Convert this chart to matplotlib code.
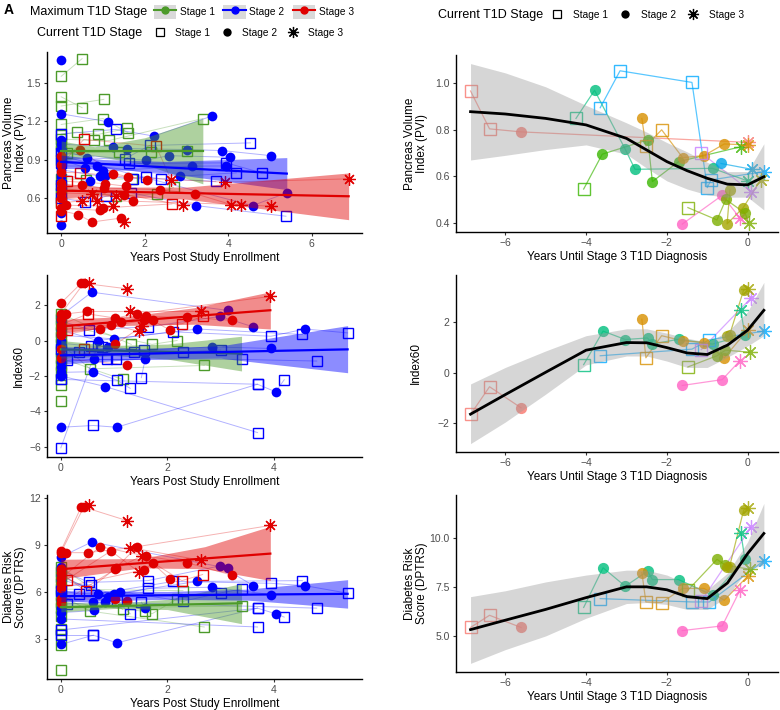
import numpy as np
import matplotlib
matplotlib.use("Agg")
import matplotlib.pyplot as plt
from matplotlib.lines import Line2D
from matplotlib.patches import Patch
from matplotlib.legend_handler import HandlerTuple

plt.rcParams["font.family"] = ["Liberation Sans", "DejaVu Sans"]

# =========================
# 1. DADOS - painéis da esquerda (por participante: (anos, valor, estágio atual))
# =========================
# prefixo do id: g = estágio máximo 1, b = estágio máximo 2, r = estágio máximo 3

pvi_left = {
    "g1": [(0, 1.55, 1), (0.5, 1.688, 1)],
    "g2": [(0, 1.39, 1), (0.5, 1.305, 1)],
    "g3": [(0, 1.318, 1), (1.02, 1.37, 1)],
    "g4": [(0, 1.174, 1), (1.0, 1.22, 1), (1.6, 1.108, 1)],
    "g5": [(0, 1.095, 1), (0.37, 1.114, 1), (0.88, 1.096, 1), (1.58, 1.143, 1)],
    "g6": [(0, 1.06, 1), (0.78, 1.049, 1), (1.15, 1.049, 1), (3.39, 1.22, 1)],
    "g7": [(0, 0.97, 1), (0.14, 0.952, 1), (1.38, 0.96, 1), (2.15, 0.96, 1), (3.0, 0.97, 1)],
    "g8": [(0, 0.75, 1), (0.6, 0.743, 1), (1.7, 0.749, 1)],
    "g9": [(0, 0.68, 1), (1.3, 0.613, 1), (2.29, 0.631, 1), (2.69, 0.683, 1)],
    "g10": [(0, 1.02, 1)],
    "g11": [(0, 0.64, 1)],
    "g12": [(0, 0.57, 1)],
    "g13": [(0, 0.9, 1)],
    "b1": [(0, 1.675, 2)],
    "b2": [(0, 1.257, 2), (1.12, 1.195, 2)],
    "b3": [(0, 1.1, 1), (1.3, 1.135, 1), (2.22, 1.083, 2), (3.61, 1.24, 2)],
    "b4": [(0, 1.02, 2), (1.24, 1.0, 2), (1.58, 0.986, 2), (3.0, 0.978, 2), (3.85, 0.97, 2), (5.03, 0.93, 2)],
    "b5": [(0, 0.98, 2), (0.62, 0.913, 2), (2.03, 0.895, 2), (2.57, 0.93, 2), (4.03, 0.918, 2)],
    "b6": [(0, 0.95, 1), (1.52, 0.905, 1), (2.12, 1.01, 1), (4.53, 1.03, 1)],
    "b7": [(0, 0.9, 2), (0.58, 0.835, 2), (1.0, 0.81, 2), (3.12, 0.848, 2), (3.94, 0.85, 2)],
    "b8": [(0, 0.87, 1), (1.63, 0.869, 1), (3.95, 0.874, 1), (4.8, 0.796, 1)],
    "b9": [(0, 0.85, 2), (0.86, 0.848, 2), (2.85, 0.77, 2), (4.19, 0.796, 1)],
    "b10": [(0, 0.82, 2), (0.94, 0.77, 2), (1.06, 0.77, 2), (1.71, 0.749, 1), (2.02, 0.764, 1),
            (2.39, 0.749, 1), (3.7, 0.73, 1)],
    "b11": [(0, 0.79, 2), (0.7, 0.73, 2)],
    "b12": [(0, 0.6, 1), (0.57, 0.566, 1), (1.07, 0.613, 1), (1.66, 0.64, 1), (3.23, 0.54, 2), (5.38, 0.457, 1)],
    "b13": [(0, 0.483, 2)],
    "b14": [(0, 0.39, 2)],
    "b15": [(0, 0.93, 2), (4.58, 0.54, 2), (5.4, 0.64, 2)],
    "b16": [(0, 1.05, 2)],
    "b17": [(0, 0.76, 2)],
    "b18": [(0, 0.7, 1)],
    "r1": [(0, 0.926, 2), (0.46, 0.973, 2), (1.24, 0.79, 2), (2.06, 0.738, 2)],
    "r2": [(0, 0.86, 2), (0.54, 1.057, 1), (2.27, 1.004, 1), (2.63, 0.743, 3)],
    "r3": [(0, 0.8, 2), (0.46, 0.796, 1), (1.6, 0.762, 2), (3.91, 0.723, 3), (6.88, 0.749, 3)],
    "r4": [(0, 0.72, 2), (0.13, 0.73, 1), (1.04, 0.712, 2), (1.56, 0.691, 2)],
    "r5": [(0, 0.68, 2), (0.49, 0.699, 2), (1.02, 0.678, 2), (2.36, 0.665, 2), (3.2, 0.634, 2), (4.07, 0.548, 3)],
    "r6": [(0, 0.64, 2), (0.74, 0.631, 3), (1.51, 0.626, 2), (2.92, 0.543, 3)],
    "r7": [(0, 0.56, 1), (0.5, 0.579, 3)],
    "r8": [(0, 0.6, 2), (0.86, 0.579, 3), (1.71, 0.574, 2), (4.31, 0.548, 3), (5.03, 0.535, 3)],
    "r9": [(0, 0.457, 1), (0.12, 0.543, 2), (1.24, 0.535, 3), (1.3, 0.618, 3)],
    "r10": [(0, 0.5, 2), (0.41, 0.47, 2), (0.74, 0.412, 2), (1.44, 0.443, 2), (1.51, 0.409, 3)],
    "r11": [(0, 0.52, 2), (0.94, 0.503, 2), (1.0, 0.522, 2), (2.65, 0.553, 1)],
}

index60_left = {
    "g1": [(0, 1.5, 1), (1.32, -0.22, 1)],
    "g2": [(0, 1.2, 1)],
    "g3": [(0, 0.9, 1), (1.71, -0.22, 1), (2.18, 0.0, 1)],
    "g4": [(0, 0.5, 1)],
    "g5": [(0, 0.2, 1)],
    "g6": [(0, -0.2, 1), (0.55, -1.6, 1), (2.69, -1.41, 1)],
    "g7": [(0, -0.6, 1)],
    "g8": [(0, -1.0, 1), (1.16, -2.2, 1)],
    "g9": [(0, -1.4, 1)],
    "g10": [(0, -1.8, 1)],
    "g11": [(0, -2.2, 1)],
    "g12": [(0, -2.5, 1)],
    "g13": [(0, -3.4, 1)],
    "b1": [(0, 1.4, 2), (0.58, 2.73, 2), (3.13, 1.7, 2)],
    "b2": [(0, 1.1, 2), (0.53, 0.62, 1), (1.63, 0.77, 1), (2.99, 1.36, 2), (3.61, 0.77, 2)],
    "b3": [(0, 0.6, 2), (0.69, 0.0, 2), (2.11, 0.49, 1), (3.94, 0.24, 1), (4.58, 0.65, 2), (5.38, 0.43, 1)],
    "b4": [(0, 0.3, 2), (1.0, 0.09, 2), (2.56, 0.65, 2), (4.53, 0.34, 1)],
    "b5": [(0, -0.15, 2), (0.57, -0.32, 1), (0.89, -0.36, 2), (1.56, -0.56, 1), (2.84, -0.36, 2), (3.94, -0.45, 2)],
    "b6": [(0, -0.5, 1), (0.34, -0.65, 1), (0.78, -0.36, 1), (1.38, -0.65, 1), (2.29, -0.64, 1), (3.0, -0.54, 1)],
    "b7": [(0, -0.85, 2), (0.11, -1.12, 1), (0.86, -1.07, 1), (1.03, -1.07, 1), (3.39, -1.07, 1), (4.8, -1.16, 1)],
    "b8": [(0, -1.2, 2), (0.62, -1.07, 2), (1.58, -1.07, 2), (1.51, -2.1, 1)],
    "b9": [(0, -1.8, 2), (0.61, -1.76, 2), (1.05, -2.24, 1), (1.3, -2.7, 1)],
    "b10": [(0, -2.0, 2), (0.83, -2.6, 2), (3.69, -5.2, 1)],
    "b11": [(0, -2.2, 1), (3.69, -2.47, 1), (4.03, -2.9, 2), (4.19, -2.22, 1)],
    "b12": [(0, -4.9, 2), (0.61, -4.8, 1), (1.05, -4.9, 2), (3.69, -2.47, 1)],
    "b13": [(0, -6.06, 1), (0.69, -0.3, 1)],
    "b14": [(0, 1.2, 2)],
    "b15": [(0, 0.0, 2)],
    "b16": [(0, -1.5, 2)],
    "r1": [(0, 2.11, 2), (0.38, 3.23, 2), (0.52, 3.27, 3)],
    "r2": [(0, 1.5, 2), (0.43, 3.23, 2), (1.24, 2.92, 3)],
    "r3": [(0, 1.2, 2), (0.09, 1.5, 2), (0.49, 1.64, 2), (1.3, 1.64, 3), (2.63, 1.64, 3)],
    "r4": [(0, 0.9, 2), (0.51, 1.5, 1), (1.02, 1.27, 2), (1.43, 1.5, 2), (3.93, 2.49, 3)],
    "r5": [(0, 0.7, 2), (0.74, 0.65, 2), (1.13, 1.03, 2), (1.59, 1.36, 2), (2.36, 1.31, 2), (3.21, 1.14, 2)],
    "r6": [(0, 0.45, 2), (0.11, 0.62, 1), (0.94, 0.9, 2), (1.46, 0.52, 3)],
    "r7": [(0, 0.3, 2), (1.56, 1.14, 2), (1.72, 1.14, 2), (2.05, 0.58, 2)],
    "r8": [(0, -0.5, 2), (0.43, -0.5, 1), (1.02, -0.22, 2), (1.52, 0.8, 3), (2.27, 0.95, 1), (2.66, 1.36, 1)],
    "r9": [(0, -1.0, 2), (1.24, -1.38, 2)],
}

dptrs_left = {
    "g1": [(0, 7.6, 1), (1.16, 4.91, 1)],
    "g2": [(0, 7.3, 1)],
    "g3": [(0, 7.0, 1), (1.71, 4.63, 1), (2.18, 5.58, 1)],
    "g4": [(0, 6.6, 1)],
    "g5": [(0, 6.2, 1), (2.29, 6.1, 1)],
    "g6": [(0, 5.8, 1), (0.55, 4.8, 1), (2.69, 3.79, 1)],
    "g7": [(0, 5.4, 1), (1.58, 4.78, 1)],
    "g8": [(0, 5.0, 1), (3.39, 5.12, 1)],
    "g9": [(0, 4.5, 1)],
    "g10": [(0, 3.69, 1)],
    "g11": [(0, 3.37, 1)],
    "g12": [(0, 2.64, 1)],
    "g13": [(0, 1.06, 1)],
    "b1": [(0, 8.25, 2), (0.58, 9.2, 2), (3.13, 7.53, 2)],
    "b2": [(0, 7.4, 2), (0.53, 6.63, 1), (1.63, 6.74, 1), (2.99, 7.68, 2), (3.61, 6.42, 2)],
    "b3": [(0, 7.1, 2), (0.69, 5.9, 2), (2.11, 6.69, 1), (3.94, 6.57, 1), (4.58, 6.42, 2), (5.38, 5.94, 1)],
    "b4": [(0, 6.8, 2), (1.0, 5.9, 2), (2.56, 6.69, 2), (4.53, 6.74, 1)],
    "b5": [(0, 6.4, 2), (0.57, 6.48, 1), (0.89, 5.68, 2), (1.63, 6.25, 1), (2.84, 6.32, 2), (3.94, 5.85, 2)],
    "b6": [(0, 6.1, 1), (0.34, 5.9, 1), (1.11, 6.04, 2), (2.29, 5.43, 1), (3.0, 5.96, 1), (3.39, 6.21, 1)],
    "b7": [(0, 5.9, 2), (0.11, 5.26, 1), (0.83, 5.37, 2), (4.8, 4.99, 1)],
    "b8": [(0, 5.5, 2), (0.61, 5.37, 2), (1.58, 4.99, 2), (1.51, 5.37, 1)],
    "b9": [(0, 4.7, 2), (0.63, 4.84, 2), (1.05, 5.47, 1), (1.3, 4.63, 1)],
    "b10": [(0, 4.3, 2), (3.69, 3.79, 1)],
    "b11": [(0, 3.6, 1), (3.69, 4.99, 1), (4.03, 4.63, 2), (4.19, 4.42, 1)],
    "b12": [(0, 2.68, 2), (0.61, 3.27, 1), (1.05, 2.78, 2), (3.69, 4.99, 1)],
    "b13": [(0, 3.27, 1), (0.61, 3.27, 1)],
    "b14": [(0, 7.6, 2)],
    "b15": [(0, 6.3, 2)],
    "b16": [(0, 5.0, 2)],
    "r1": [(0, 8.63, 2), (0.38, 11.42, 2), (0.52, 11.53, 3)],
    "r2": [(0, 8.52, 2), (0.43, 11.42, 2), (1.24, 10.56, 3)],
    "r3": [(0, 7.5, 2), (0.09, 8.52, 2), (0.5, 8.52, 2), (1.3, 8.84, 3), (2.63, 8.04, 3)],
    "r4": [(0, 7.2, 2), (0.48, 6.06, 1), (1.03, 7.53, 2), (1.43, 8.9, 2), (3.93, 10.25, 3)],
    "r5": [(0, 6.9, 2), (0.74, 8.9, 2), (1.59, 8.31, 2), (2.36, 7.89, 2), (3.21, 7.09, 2)],
    "r6": [(0, 6.6, 2), (0.11, 6.8, 1), (0.94, 8.63, 2), (1.46, 7.3, 3)],
    "r7": [(0, 6.3, 2), (1.56, 7.43, 2), (1.72, 7.85, 2), (2.05, 6.84, 2)],
    "r8": [(0, 5.3, 2), (1.02, 7.47, 2), (1.52, 8.31, 3), (2.27, 6.74, 1), (2.66, 7.13, 1)],
    "r9": [(0, 5.6, 2), (1.02, 5.54, 2), (1.24, 5.47, 2)],
}

# Ajustes lineares: x, ajuste, limite inferior, limite superior
pvi_fits = {
    1: ([0, 0.8, 2.0, 3.39], [0.965, 0.965, 0.965, 0.965], [0.885, 0.93, 0.86, 0.71], [1.045, 1.0, 1.07, 1.22]),
    2: ([0, 1.0, 2.5, 5.4], [0.882, 0.865, 0.839, 0.79], [0.83, 0.83, 0.795, 0.665], [0.935, 0.9, 0.885, 0.915]),
    3: ([0, 1.0, 3.0, 6.88], [0.657, 0.651, 0.638, 0.613], [0.60, 0.615, 0.59, 0.43], [0.715, 0.685, 0.685, 0.795]),
}
index60_fits = {
    1: ([0, 1.0, 2.0, 3.39], [-0.5, -0.57, -0.64, -0.74], [-1.0, -0.85, -1.05, -1.72], [0.0, -0.28, -0.2, 0.24]),
    2: ([0, 1.5, 3.0, 5.38], [-0.84, -0.75, -0.65, -0.5], [-1.33, -1.05, -1.0, -1.82], [-0.35, -0.45, -0.3, 0.84]),
    3: ([0, 1.2, 2.5, 3.93], [0.8, 1.08, 1.38, 1.71], [0.42, 0.85, 0.92, 0.65], [1.2, 1.35, 1.85, 2.75]),
}
dptrs_fits = {
    1: ([0, 1.0, 2.0, 3.39], [5.05, 5.12, 5.2, 5.3], [4.75, 4.97, 4.9, 4.0], [5.35, 5.3, 5.55, 6.55]),
    2: ([0, 2.0, 3.5, 5.38], [5.75, 5.81, 5.85, 5.9], [5.4, 5.55, 5.5, 4.99], [6.1, 6.05, 6.2, 6.8]),
    3: ([0, 1.5, 2.7, 3.93], [7.47, 7.85, 8.15, 8.46], [6.85, 7.55, 7.5, 6.75], [8.1, 8.15, 8.9, 10.2]),
}

# =========================
# 2. DADOS - painéis da direita (anos até diagnóstico de estágio 3)
# =========================
subj_colors = {
    "sal": "#F8766D", "gold": "#D89000", "olive": "#A3A500", "ygreen": "#7CAE00",
    "green": "#39B600", "teal": "#00BF7D", "lblue": "#00A9FF", "blue": "#00A5E8",
    "purple": "#C77CFF", "pink": "#FF61C3",
}

pvi_right = {
    "sal": [(-6.86, 0.967, 1), (-6.39, 0.804, 1), (-5.61, 0.791, 2), (0.0, 0.746, 3)],
    "lblue": [(-3.65, 0.895, 1), (-3.16, 1.054, 1), (-1.38, 1.004, 1), (-1.0, 0.551, 1),
              (-0.91, 0.584, 1), (0.4, 0.62, 3)],
    "teal": [(-4.25, 0.849, 1), (-3.79, 0.97, 2), (-3.03, 0.716, 2), (-2.79, 0.63, 2),
             (-0.87, 0.634, 2), (0.0, 0.58, 3)],
    "green": [(-4.06, 0.545, 1), (-3.6, 0.695, 2), (-2.47, 0.757, 2), (-2.36, 0.577, 2),
              (-1.71, 0.663, 2), (-0.17, 0.727, 3)],
    "gold": [(-2.62, 0.849, 2), (-2.52, 0.73, 1), (-2.13, 0.8, 1), (-1.61, 0.68, 2),
             (-1.08, 0.689, 2), (-0.58, 0.739, 2), (0.0, 0.735, 3)],
    "purple": [(-1.15, 0.7, 1), (0.08, 0.534, 3)],
    "blue": [(-0.66, 0.655, 2), (0.1, 0.63, 3)],
    "pink": [(-1.62, 0.394, 2), (-0.63, 0.518, 2), (-0.19, 0.419, 3)],
    "olive": [(-0.44, 0.541, 2), (-0.51, 0.395, 2), (-0.11, 0.465, 2), (0.32, 0.584, 3)],
    "ygreen": [(-1.48, 0.465, 1), (-0.76, 0.412, 2), (-0.54, 0.5, 2), (-0.06, 0.44, 2), (0.02, 0.4, 3)],
}

# Index60 e DPTRS compartilham as mesmas visitas
visit_years = {
    "sal": [-6.86, -6.39, -5.61],
    "teal": [-4.06, -3.58, -3.03, -2.48, -2.36, -1.71, -0.87, -0.07, -0.17],
    "lblue": [-3.65, -1.38, -0.95, 0.4],
    "gold": [-2.62, -2.52, -2.13, -1.61, -1.08, -0.58, 0.0],
    "ygreen": [-1.48, -0.76, -0.55, 0.05],
    "purple": [-1.15, 0.08],
    "pink": [-1.62, -0.63, -0.19],
    "olive": [-0.5, -0.45, -0.1, 0.0],
}
visit_stage = {
    "sal": [1, 1, 2],
    "teal": [1, 2, 2, 2, 2, 2, 2, 2, 3],
    "lblue": [1, 1, 1, 3],
    "gold": [2, 1, 1, 2, 2, 2, 3],
    "ygreen": [1, 2, 2, 3],
    "purple": [1, 3],
    "pink": [2, 2, 3],
    "olive": [2, 2, 2, 3],
}
index60_right = {
    "sal": [-1.65, -0.56, -1.39],
    "teal": [0.31, 1.63, 1.30, 1.36, 1.12, 1.31, 1.12, 1.47, 2.45],
    "lblue": [0.66, 0.92, 1.29, 1.63],
    "gold": [2.10, 0.58, 1.45, 1.25, 1.18, 0.58, 1.68],
    "ygreen": [0.22, 0.66, 0.88, 0.80],
    "purple": [0.90, 2.93],
    "pink": [-0.51, -0.28, 0.47],
    "olive": [1.45, 1.47, 3.25, 3.30],
}
dptrs_right = {
    "sal": [5.43, 6.05, 5.43],
    "teal": [6.45, 8.47, 7.53, 8.30, 7.87, 7.87, 7.07, 8.91, 10.26],
    "lblue": [6.90, 6.73, 6.73, 8.83],
    "gold": [8.23, 6.73, 6.70, 7.42, 7.42, 6.82, 8.04],
    "ygreen": [7.33, 8.90, 8.60, 8.40],
    "purple": [6.77, 10.53],
    "pink": [5.27, 5.51, 7.33],
    "olive": [8.52, 8.52, 11.41, 11.50],
}

# curvas suavizadas
smooth_x = [-6.86, -6.0, -5.0, -4.0, -3.0, -2.5, -2.0, -1.5, -1.0, -0.5, 0.0, 0.4]
pvi_smooth = [0.878, 0.868, 0.849, 0.821, 0.763, 0.713, 0.663, 0.624, 0.591, 0.566, 0.563, 0.598]
pvi_smooth_lo = [0.67, 0.69, 0.715, 0.735, 0.695, 0.635, 0.58, 0.545, 0.52, 0.51, 0.51, 0.455]
pvi_smooth_hi = [1.085, 1.045, 0.985, 0.905, 0.83, 0.79, 0.745, 0.705, 0.66, 0.62, 0.62, 0.74]
index60_smooth = [-1.64, -0.87, 0.01, 0.88, 1.18, 1.17, 0.98, 0.77, 0.71, 1.08, 1.67, 2.45]
index60_smooth_lo = [-2.8, -1.95, -0.85, 0.3, 0.65, 0.65, 0.45, 0.2, 0.2, 0.6, 1.05, 1.45]
index60_smooth_hi = [-0.45, 0.2, 0.85, 1.45, 1.72, 1.72, 1.55, 1.35, 1.2, 1.6, 2.4, 3.55]
dptrs_smooth = [5.32, 5.8, 6.35, 6.95, 7.5, 7.5, 7.35, 7.0, 6.9, 7.7, 9.2, 10.22]
dptrs_smooth_lo = [3.6, 4.3, 5.0, 5.9, 6.65, 6.7, 6.6, 6.35, 6.35, 7.0, 8.4, 8.6]
dptrs_smooth_hi = [7.0, 7.3, 7.75, 8.1, 8.35, 8.35, 8.1, 7.65, 7.35, 8.2, 9.8, 11.75]

# =========================
# 3. ESTILO
# =========================
STAGE_COL = {1: "#4C9A2A", 2: "#0000FF", 3: "#E00000"}
GROUP_OF = {"g": 1, "b": 2, "r": 3}
ASTER = (8, 2, 0)
TICK_COL = "#4D4D4D"


def marker_kw(stage, color, big=False):
    s = 1.15 if big else 1.0
    if stage == 1:
        return dict(marker="s", ms=7.0 * s, mfc="none", mec=color, mew=1.0)
    if stage == 2:
        return dict(marker="o", ms=7.0 * s, mfc=color, mec=color, mew=0)
    return dict(marker=ASTER, ms=9.0 * s, mfc=color, mec=color, mew=0.9)


def style_axes(ax, xlim, ylim, xticks, yticks, yticklabels, ylabel, xlabel, ylab_x):
    ax.set_xlim(*xlim)
    ax.set_ylim(*ylim)
    ax.set_xticks(xticks)
    ax.set_xticklabels([f"{t:g}".replace("-", "\u2212") for t in xticks])
    ax.set_yticks(yticks)
    ax.set_yticklabels(yticklabels)
    for side in ["top", "right"]:
        ax.spines[side].set_visible(False)
    for side in ["left", "bottom"]:
        ax.spines[side].set_linewidth(1.0)
        ax.spines[side].set_color("black")
    ax.tick_params(length=2.5, width=0.8, color="#333333", labelsize=7.5, labelcolor=TICK_COL, pad=2)
    ax.set_ylabel(ylabel, fontsize=8.5, linespacing=1.0)
    ax.yaxis.set_label_coords(ylab_x, 0.5)
    ax.set_xlabel(xlabel, fontsize=8.5, labelpad=2)


def draw_left(ax, subjects, fits):
    for sid, pts in subjects.items():
        col = STAGE_COL[GROUP_OF[sid[0]]]
        ax.plot([p[0] for p in pts], [p[1] for p in pts], color=col, lw=0.7, alpha=0.3, zorder=1)
        for x, y, st in pts:
            ax.plot([x], [y], ls="none", zorder=2, **marker_kw(st, col))
    for grp in [1, 2, 3]:
        xs, fit, lo, hi = fits[grp]
        col = STAGE_COL[grp]
        ax.fill_between(xs, lo, hi, color=col, alpha=0.45, lw=0, zorder=3)
        ax.plot(xs, fit, color=col, lw=1.6, zorder=3)


def draw_right(ax, tracks, sx, sy, lo, hi):
    for sid, pts in tracks.items():
        col = subj_colors[sid]
        ax.plot([p[0] for p in pts], [p[1] for p in pts], color=col, lw=0.9, alpha=0.65, zorder=1)
        for x, y, st in pts:
            ax.plot([x], [y], ls="none", alpha=0.8, zorder=2, **marker_kw(st, col, big=True))
    ax.fill_between(sx, lo, hi, color="#999999", alpha=0.4, lw=0, zorder=3)
    ax.plot(sx, sy, color="black", lw=2.0, zorder=4)


def visits_to_tracks(values):
    return {k: list(zip(visit_years[k], values[k], visit_stage[k])) for k in visit_years}


# =========================
# 4. FIGURA
# =========================
fig = plt.figure(figsize=(7.8, 7.1), dpi=100)
W, H = 780, 710


def add_ax(x0, top, x1, bottom):
    return fig.add_axes([x0 / W, 1 - bottom / H, (x1 - x0) / W, (bottom - top) / H])


ax1 = add_ax(47, 52, 362, 233)
ax3 = add_ax(47, 275, 362, 457)
ax5 = add_ax(47, 495, 362, 679)
ax2 = add_ax(456, 55, 778, 232)
ax4 = add_ax(456, 275, 778, 452)
ax6 = add_ax(456, 495, 778, 672)

draw_left(ax1, pvi_left, pvi_fits)
draw_left(ax3, index60_left, index60_fits)
draw_left(ax5, dptrs_left, dptrs_fits)

draw_right(ax2, pvi_right, smooth_x, pvi_smooth, pvi_smooth_lo, pvi_smooth_hi)
draw_right(ax4, visits_to_tracks(index60_right), smooth_x, index60_smooth, index60_smooth_lo, index60_smooth_hi)
draw_right(ax6, visits_to_tracks(dptrs_right), smooth_x, dptrs_smooth, dptrs_smooth_lo, dptrs_smooth_hi)

xl_left = "Years Post Study Enrollment"
xl_right = "Years Until Stage 3 T1D Diagnosis"
style_axes(ax1, (-0.34, 7.2), (0.326, 1.74), [0, 2, 4, 6], [0.6, 0.9, 1.2, 1.5],
           ["0.6", "0.9", "1.2", "1.5"], "Pancreas Volume\nIndex (PVI)", xl_left, -0.062)
style_axes(ax3, (-0.26, 5.65), (-6.58, 3.7), [0, 2, 4], [-6, -4, -2, 0, 2],
           ["\u22126", "\u22124", "\u22122", "0", "2"], "Index60", xl_left, -0.069)
style_axes(ax5, (-0.26, 5.65), (0.48, 12.19), [0, 2, 4], [3, 6, 9, 12],
           ["3", "6", "9", "12"], "Diabetes Risk\nScore (DPTRS)", xl_left, -0.062)
style_axes(ax2, (-7.22, 0.75), (0.36, 1.122), [-6, -4, -2, 0], [0.4, 0.6, 0.8, 1.0],
           ["0.4", "0.6", "0.8", "1.0"], "Pancreas Volume\nIndex (PVI)", xl_right, -0.086)
style_axes(ax4, (-7.22, 0.75), (-3.13, 3.84), [-6, -4, -2, 0], [-2, 0, 2],
           ["\u22122", "0", "2"], "Index60", xl_right, -0.106)
style_axes(ax6, (-7.22, 0.75), (3.16, 12.18), [-6, -4, -2, 0], [5.0, 7.5, 10.0],
           ["5.0", "7.5", "10.0"], "Diabetes Risk\nScore (DPTRS)", xl_right, -0.088)

# =========================
# 5. LEGENDAS
# =========================
stage_labels = ["Stage 1", "Stage 2", "Stage 3"]

max_handles = [(Patch(facecolor="#D9D9D9", edgecolor="none"),
                Line2D([], [], color=STAGE_COL[s], lw=1.5, marker="o", ms=5))
               for s in [1, 2, 3]]
fig.text(30 / W, 1 - 12 / H, "Maximum T1D Stage", fontsize=9, ha="left", va="center")
fig.legend(max_handles, stage_labels, handler_map={tuple: HandlerTuple(ndivide=1)},
           ncol=3, loc="center left", bbox_to_anchor=(154 / W, 1 - 12 / H), frameon=False,
           fontsize=7.3, handlelength=2.2, handleheight=1.7, handletextpad=0.35,
           columnspacing=0.85, borderpad=0, borderaxespad=0)

cur_handles = [Line2D([], [], ls="none", marker="s", ms=6, mfc="none", mec="black", mew=0.9),
               Line2D([], [], ls="none", marker="o", ms=6, mfc="black", mec="black", mew=0),
               Line2D([], [], ls="none", marker=ASTER, ms=8, mec="black", mew=0.9)]

fig.text(37 / W, 1 - 33 / H, "Current T1D Stage", fontsize=9, ha="left", va="center")
fig.legend(cur_handles, stage_labels, ncol=3, loc="center left",
           bbox_to_anchor=(153 / W, 1 - 33 / H), frameon=False, fontsize=7.3,
           handlelength=1.4, handletextpad=0.8, columnspacing=0.9, borderpad=0, borderaxespad=0)

fig.text(438 / W, 1 - 15 / H, "Current T1D Stage", fontsize=9, ha="left", va="center")
fig.legend(cur_handles, stage_labels, ncol=3, loc="center left",
           bbox_to_anchor=(550 / W, 1 - 15 / H), frameon=False, fontsize=7.3,
           handlelength=1.4, handletextpad=0.9, columnspacing=0.95, borderpad=0, borderaxespad=0)

fig.text(4 / W, 1 - 3 / H, "A", fontsize=10, weight="bold", ha="left", va="top")

fig.savefig("out.png", dpi=100)
